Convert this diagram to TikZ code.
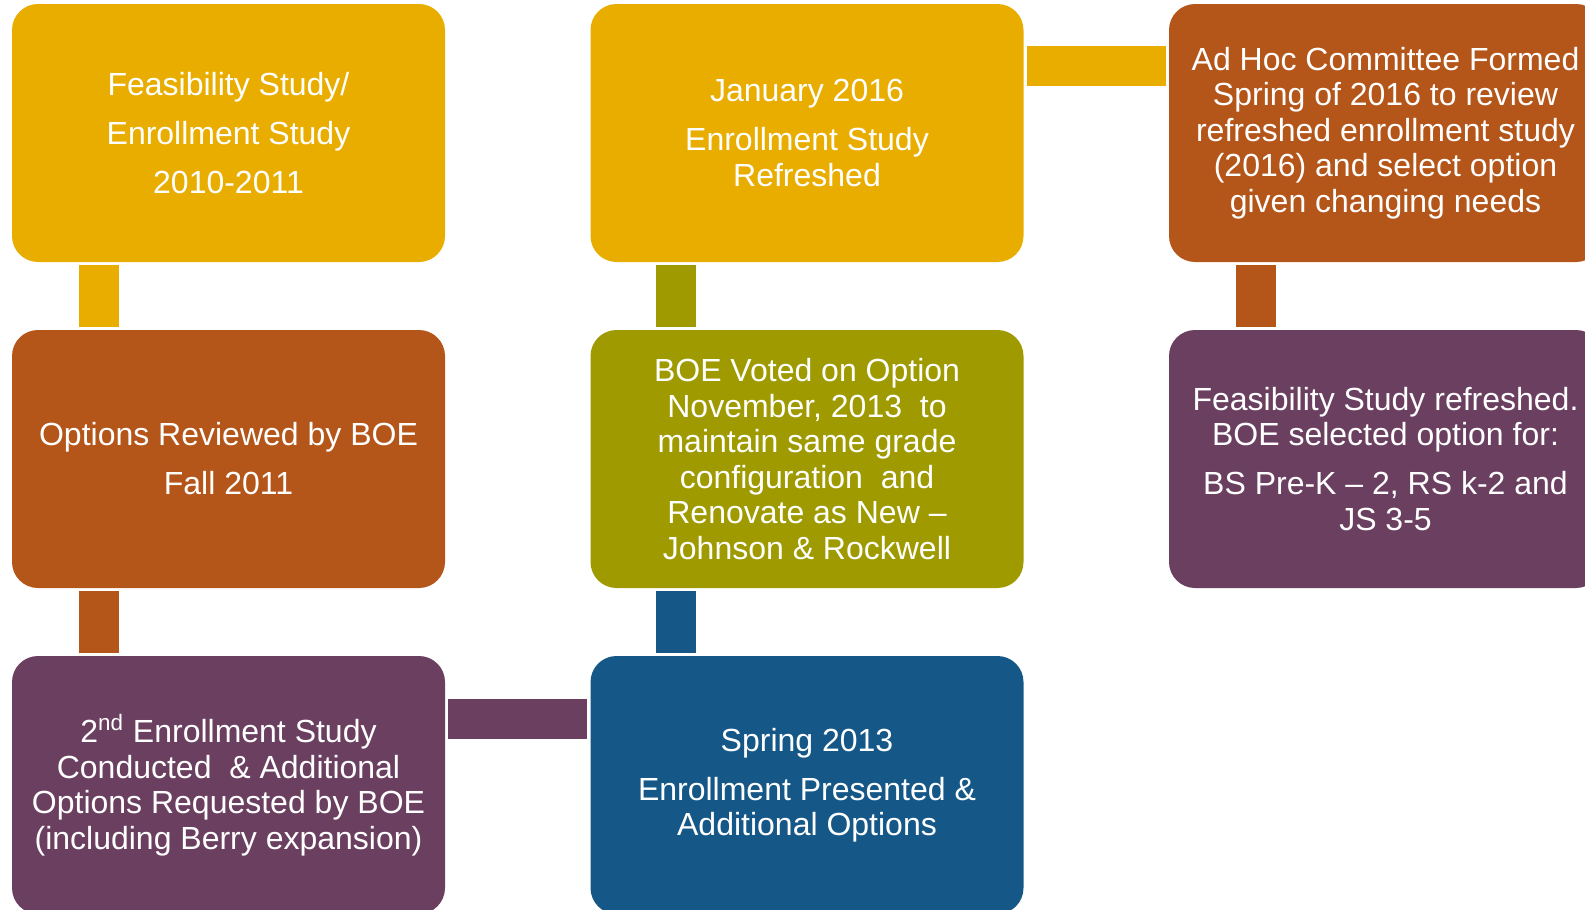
\documentclass[tikz,border=0pt]{standalone}
\usepackage{fontspec}
\setmainfont{Liberation Sans}
\definecolor{cyellow}{HTML}{E9AD00}
\definecolor{corange}{HTML}{B45519}
\definecolor{cpurple}{HTML}{6B3F60}
\definecolor{colive}{HTML}{9E9A00}
\definecolor{cblue}{HTML}{155888}
\begin{document}
\begin{tikzpicture}[x=0.5pt,y=-0.5pt,
  box/.style={rectangle, rounded corners=13pt, minimum width=216.5pt, minimum height=129pt,
    inner sep=0pt, text=white, align=center, font=\fontsize{16}{17.75}\selectfont},
  conn/.style={line width=20pt}]
\useasboundingbox (0,0) rectangle (1585,910);
\clip (0,0) rectangle (1585,910);
% boxes
\node[box, fill=cyellow] (b1) at (228.5,133) {Feasibility Study/\\[6.75pt]Enrollment Study\\[6.75pt]2010-2011};
\node[box, fill=corange] (b2) at (228.5,459) {Options Reviewed by BOE\\[6.75pt]Fall 2011};
\node[box, fill=cpurple] (b3) at (228.5,785) {2\textsuperscript{nd} Enrollment Study\\Conducted\ \ \& Additional\\Options Requested by BOE\\(including Berry expansion)};
\node[box, fill=cblue] (b4) at (807,785) {Spring 2013\\[6.75pt]Enrollment Presented \&\\Additional Options};
\node[box, fill=colive] (b5) at (807,459) {BOE Voted on Option\\November, 2013\ \ to\\maintain same grade\\configuration\ \ and\\Renovate as New –\\Johnson \& Rockwell};
\node[box, fill=cyellow] (b6) at (807,133) {January 2016\\[6.75pt]Enrollment Study\\Refreshed};
\node[box, fill=corange] (b7) at (1385.5,133) {Ad Hoc Committee Formed\\Spring of 2016 to review\\refreshed enrollment study\\(2016) and select option\\given changing needs};
\node[box, fill=cpurple] (b8) at (1385.5,459) {Feasibility Study refreshed.\\BOE selected option for:\\[6.75pt]BS Pre-K – 2, RS k-2 and\\JS 3-5};
% connectors
\draw[conn, cyellow] ([xshift=43.5pt,yshift=-1.5pt]b1.south west) -- ([xshift=43.5pt,yshift=1.5pt]b2.north west);
\draw[conn, corange] ([xshift=43.5pt,yshift=-1.5pt]b2.south west) -- ([xshift=43.5pt,yshift=1.5pt]b3.north west);
\draw[conn, cpurple] ([xshift=1.5pt,yshift=-31.5pt]b3.north east) -- ([xshift=-1.5pt,yshift=-31.5pt]b4.north west);
\draw[conn, cblue] ([xshift=43pt,yshift=1.5pt]b4.north west) -- ([xshift=43pt,yshift=-1.5pt]b5.south west);
\draw[conn, colive] ([xshift=43pt,yshift=1.5pt]b5.north west) -- ([xshift=43pt,yshift=-1.5pt]b6.south west);
\draw[conn, cyellow] ([xshift=1.5pt,yshift=-31pt]b6.north east) -- ([xshift=-1.5pt,yshift=-31pt]b7.north west);
\draw[conn, corange] ([xshift=43.5pt,yshift=-1.5pt]b7.south west) -- ([xshift=43.5pt,yshift=1.5pt]b8.north west);
\end{tikzpicture}
\end{document}
